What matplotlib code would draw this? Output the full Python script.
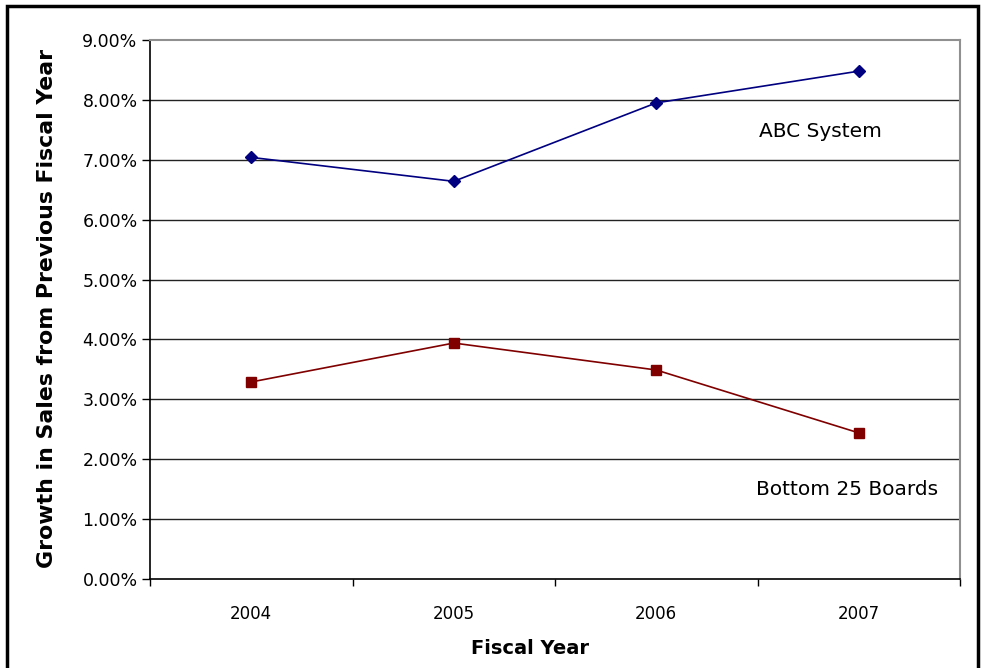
import matplotlib
matplotlib.use("Agg")
from matplotlib import pyplot as plt
from matplotlib.patches import Rectangle
import matplotlib.ticker as ticker
import numpy as np

years = ['2004', '2005', '2006', '2007']
abc_system = [7.04, 6.64, 7.95, 8.48]
bottom_25 = [3.29, 3.94, 3.49, 2.44]

plt.rcParams['font.family'] = ['DejaVu Sans']

fig = plt.figure(figsize=(9.82, 6.68), dpi=100)
ax = fig.add_axes([150 / 982, 89 / 668, 810 / 982, 539 / 668])

x = np.arange(len(years))
ax.plot(x, abc_system, color='#000080', linewidth=1.2, marker='D', markersize=6.5)
ax.plot(x, bottom_25, color='#800000', linewidth=1.2, marker='s', markersize=7.5)

ax.set_xlim(-0.5, len(years) - 0.5)
ax.set_ylim(0, 9)
ax.set_xticks(x)
ax.set_xticklabels(years)
ax.xaxis.set_minor_locator(ticker.FixedLocator(np.arange(-0.5, len(years), 1.0)))
ax.tick_params(axis='x', which='major', length=0, pad=19, labelsize=12)
ax.tick_params(axis='x', which='minor', length=5, width=1, direction='out')
ax.yaxis.set_major_locator(ticker.MultipleLocator(1))
ax.yaxis.set_major_formatter(ticker.FuncFormatter(lambda v, p: '%.2f%%' % v))
ax.tick_params(axis='y', length=6, width=1, direction='out', pad=3, labelsize=12.5)

# horizontal gridlines, top one doubles as plot border
for v in range(1, 9):
    ax.axhline(v, color='#222222', linewidth=1, zorder=0)
ax.spines['top'].set_color('#909090')
ax.spines['right'].set_color('#909090')
ax.spines['top'].set_linewidth(1.5)
ax.spines['right'].set_linewidth(1.5)
ax.spines['left'].set_linewidth(1.2)
ax.spines['bottom'].set_linewidth(1.2)

ax.text(2.81, 7.48, 'ABC System', fontsize=14.5, ha='center', va='center')
ax.text(2.94, 1.5, 'Bottom 25 Boards', fontsize=14.5, ha='center', va='center')

fig.text(47 / 982, 1 - 308 / 668, 'Growth in Sales from Previous Fiscal Year',
         rotation=90, fontsize=15.8, fontweight='bold', ha='center', va='center')
fig.text(530 / 982, 1 - 648 / 668, 'Fiscal Year', fontsize=14, fontweight='bold',
         ha='center', va='center')

# outer chart frame
fig.patches.append(Rectangle((6.5 / 982, -0.05), (978 - 6.5) / 982, 1.05 - 6.5 / 668,
                             transform=fig.transFigure, fill=False,
                             edgecolor='black', linewidth=2.5))

plt.savefig('out.png', dpi=100)
